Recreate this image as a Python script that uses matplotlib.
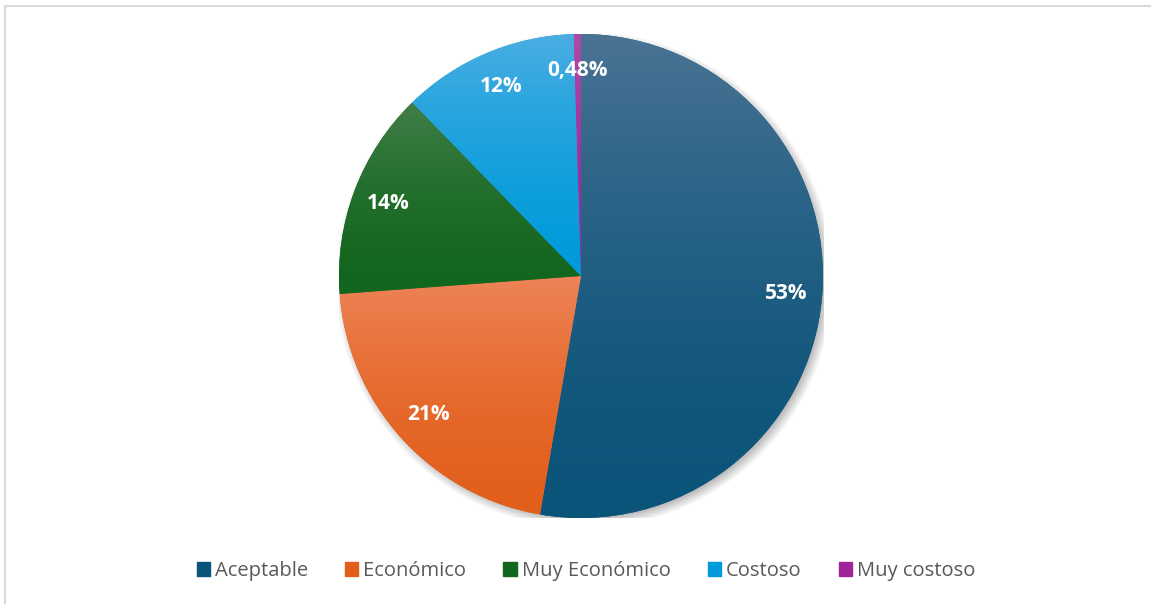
import numpy as np
import matplotlib
matplotlib.use("Agg")
import matplotlib.pyplot as plt
from matplotlib.colors import to_rgb
from matplotlib.patches import Rectangle

plt.rcParams['font.family'] = ['Open Sans', 'DejaVu Sans']

# data (percent of responses)
categories = ["Aceptable", "Económico", "Muy Económico", "Costoso", "Muy costoso"]
values = [52.7, 21.1, 13.9, 11.8, 0.48]

# gradient colours per slice: (top, bottom)
top_colors = ["#4a7394", "#ee8458", "#417e48", "#4aaee2", "#b04aa8"]
bottom_colors = ["#0b5479", "#e25f1b", "#12661d", "#019bdb", "#a0249a"]


def pct_label(p):
    if p < 1:
        return f"{p:.2f}%".replace(".", ",")
    return f"{p:.0f}%"


fig = plt.figure(figsize=(11.51, 6.04), dpi=100)
W, H = 1151, 604
cx, cy, r = 581, 276, 242
ax = fig.add_axes([(cx - r) / W, (H - cy - r) / H, 2 * r / W, 2 * r / H])

# soft drop shadow
n = 400
xs = np.linspace(-1.1, 1.1, n)
X, Y = np.meshgrid(xs, xs)
dist = np.hypot(X - 0.012, Y + 0.016)
alpha = np.clip((1.03 - dist) / 0.05, 0, 1) * 0.45
shadow = np.zeros((n, n, 4))
shadow[..., :3] = 0.35
shadow[..., 3] = alpha
ax.imshow(shadow, extent=[-1.1, 1.1, -1.1, 1.1], origin="lower", zorder=0)

wedges, texts, autotexts = ax.pie(
    values, colors=bottom_colors, startangle=90, counterclock=False,
    autopct=pct_label, pctdistance=0.85, radius=1,
    wedgeprops=dict(linewidth=0, zorder=1),
    textprops=dict(color="white", fontsize=15, fontweight="bold"),
)

# vertical gradient fill in each slice (light at the top)
for w, c0, c1 in zip(wedges, top_colors, bottom_colors):
    bb = w.get_path().get_extents()
    t = (np.linspace(0, 1, 256) ** 1.6)[:, None]
    grad = (1 - t) * np.array(to_rgb(c1)) + t * np.array(to_rgb(c0))
    grad = grad[:, None, :]
    im = ax.imshow(grad, extent=[bb.x0, bb.x1, bb.y0, bb.y1], origin="lower",
                   aspect="auto", zorder=2, interpolation="bilinear")
    im.set_clip_path(w)

for t in autotexts:
    t.set_zorder(5)

ax.set_xlim(-1, 1)
ax.set_ylim(-1, 1)
ax.set_aspect("equal")
ax.axis("off")

handles = [Rectangle((0, 0), 1, 1, color=c) for c in bottom_colors]
fig.legend(handles, categories, loc="center", bbox_to_anchor=(0.509, 1 - 571 / H),
           ncol=5, frameon=False, fontsize=14.5, labelcolor="#595959",
           handlelength=0.65, handleheight=0.65, handletextpad=0.25,
           columnspacing=1.85)

# chart area border
fig.add_artist(Rectangle((5 / W, -0.1), 1.2, 1 - 6 / H + 0.1, transform=fig.transFigure,
                         fill=False, edgecolor="#d9d9d9", linewidth=1.5))

fig.savefig("out.png", dpi=100)
